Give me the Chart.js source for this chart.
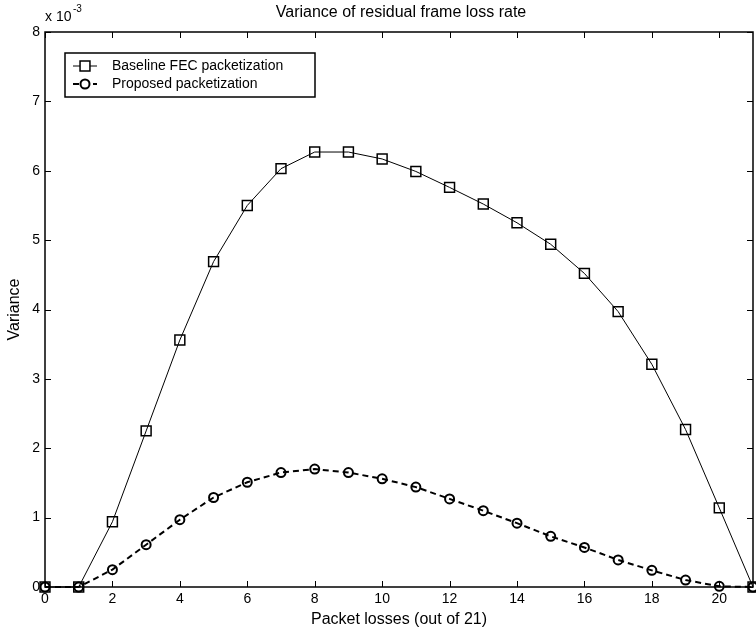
<!DOCTYPE html>
<html>
<head>
<meta charset="utf-8">
<script src="https://cdn.jsdelivr.net/npm/chart.js@4.4.0/dist/chart.umd.min.js"></script>
<style>
  html, body { margin: 0; padding: 0; background: #fff; overflow: hidden; }
  #chart { display: block; }
</style>
</head>
<body>
<!-- canvas is a few px wider than the window: the line controller keeps a minimum
     right padding for its end markers, the original axes run almost to the edge -->
<canvas id="chart" width="762" height="635"></canvas>
<script>
// packet losses (out of 21)
const losses = [0, 1, 2, 3, 4, 5, 6, 7, 8, 9, 10, 11, 12, 13, 14, 15, 16, 17, 18, 19, 20, 21];
// variance, in units of 1e-3
const baselineVar = [0, 0, 0.94, 2.25, 3.56, 4.69, 5.50, 6.03, 6.27, 6.27, 6.17, 5.99, 5.76, 5.52, 5.25, 4.94, 4.52, 3.97, 3.21, 2.27, 1.14, 0];
const proposedVar = [0, 0, 0.25, 0.61, 0.97, 1.29, 1.51, 1.65, 1.70, 1.65, 1.56, 1.44, 1.27, 1.10, 0.92, 0.73, 0.57, 0.39, 0.24, 0.10, 0.01, 0];
const xTicks = [0, 2, 4, 6, 8, 10, 12, 14, 16, 18, 20];
const yTicks = [0, 1, 2, 3, 4, 5, 6, 7, 8];

const FONT = 'Liberation Sans, Arial, Helvetica, sans-serif';
const TITLE = 'Variance of residual frame loss rate';

const toPoints = (vals) => losses.map((x, i) => ({ x: x, y: vals[i] * 1e-3 }));

// box around the axes with inward ticks on all four sides, title and exponent
const framePlugin = {
    id: 'frame',
    afterDraw(chart) {
        const { ctx, chartArea: a, scales } = chart;
        const tick = 6;
        ctx.save();
        ctx.strokeStyle = '#000';
        ctx.lineWidth = 1.5;
        ctx.strokeRect(a.left, a.top, a.right - a.left, a.bottom - a.top);
        ctx.lineWidth = 1;
        ctx.beginPath();
        xTicks.forEach(v => {
            const px = Math.round(scales.x.getPixelForValue(v)) + 0.5;
            ctx.moveTo(px, a.bottom); ctx.lineTo(px, a.bottom - tick);
            ctx.moveTo(px, a.top); ctx.lineTo(px, a.top + tick);
        });
        yTicks.forEach(v => {
            const py = Math.round(scales.y.getPixelForValue(v * 1e-3)) + 0.5;
            ctx.moveTo(a.left, py); ctx.lineTo(a.left + tick, py);
            ctx.moveTo(a.right, py); ctx.lineTo(a.right - tick, py);
        });
        ctx.stroke();

        ctx.fillStyle = '#000';
        ctx.font = '16px ' + FONT;
        ctx.textAlign = 'center';
        ctx.textBaseline = 'middle';
        ctx.fillText(TITLE, (a.left + a.right) / 2 + 2, 13);

        ctx.textAlign = 'left';
        ctx.font = '14px ' + FONT;
        ctx.fillText('x 10', a.left, 17);
        ctx.font = '10px ' + FONT;
        ctx.fillText('-3', a.left + 28, 9);
        ctx.restore();
    }
};

// legend box in the upper left of the plot
const legendPlugin = {
    id: 'boxLegend',
    afterDraw(chart) {
        const { ctx, chartArea: a } = chart;
        const x0 = a.left + 20, y0 = a.top + 21, w = 250, h = 44;
        ctx.save();
        ctx.fillStyle = '#fff';
        ctx.fillRect(x0, y0, w, h);
        ctx.strokeStyle = '#000';
        ctx.lineWidth = 1.5;
        ctx.strokeRect(x0, y0, w, h);
        chart.data.datasets.forEach((ds, i) => {
            const y = y0 + 13 + i * 18;
            ctx.strokeStyle = '#000';
            ctx.lineWidth = ds.borderWidth;
            ctx.setLineDash(ds.borderDash || []);
            ctx.beginPath();
            ctx.moveTo(x0 + 8, y);
            ctx.lineTo(x0 + 32, y);
            ctx.stroke();
            ctx.setLineDash([]);
            ctx.lineWidth = ds.pointBorderWidth;
            ctx.fillStyle = '#fff';
            Chart.helpers.drawPoint(ctx, {
                pointStyle: ds.pointStyle, radius: ds.pointRadius, borderWidth: ds.pointBorderWidth
            }, x0 + 20, y);
            ctx.fillStyle = '#000';
            ctx.font = '14px ' + FONT;
            ctx.textAlign = 'left';
            ctx.textBaseline = 'middle';
            ctx.fillText(ds.label, x0 + 47, y);
        });
        ctx.restore();
    }
};

new Chart(document.getElementById('chart'), {
    type: 'line',
    data: {
        datasets: [
            {
                label: 'Baseline FEC packetization',
                data: toPoints(baselineVar),
                borderColor: '#000',
                borderWidth: 1,
                pointStyle: 'rect',
                pointRadius: 7,
                pointBorderWidth: 1.5,
                pointBorderColor: '#000',
                pointBackgroundColor: 'rgba(0,0,0,0)',
                fill: false,
                clip: false
            },
            {
                label: 'Proposed packetization',
                data: toPoints(proposedVar),
                borderColor: '#000',
                borderWidth: 2,
                borderDash: [6, 4],
                pointStyle: 'circle',
                pointRadius: 4.5,
                pointBorderWidth: 2,
                pointBorderColor: '#000',
                pointBackgroundColor: 'rgba(0,0,0,0)',
                fill: false,
                clip: false
            }
        ]
    },
    options: {
        responsive: false,
        animation: false,
        devicePixelRatio: 1,
        layout: { padding: { top: 32, right: 9, left: 0, bottom: 0 } },
        plugins: {
            legend: { display: false },
            title: { display: false },
            tooltip: { enabled: false }
        },
        scales: {
            x: {
                type: 'linear',
                min: 0,
                max: 21,
                afterBuildTicks: (s) => { s.ticks = xTicks.map(v => ({ value: v })); },
                afterFit: (s) => { s.height = 48; s.paddingLeft = 0; s.paddingRight = 0; },
                grid: { display: false, drawTicks: false },
                border: { display: false },
                ticks: { color: '#000', font: { family: FONT, size: 14 }, padding: 4, maxRotation: 0, autoSkip: false },
                title: {
                    display: true,
                    text: 'Packet losses (out of 21)',
                    color: '#000',
                    font: { family: FONT, size: 16 },
                    padding: { top: 0, bottom: 6 }
                }
            },
            y: {
                type: 'linear',
                min: 0,
                max: 0.008,
                afterBuildTicks: (s) => { s.ticks = yTicks.map(v => ({ value: v * 1e-3 })); },
                afterFit: (s) => { s.width = 45; s.paddingTop = 0; s.paddingBottom = 0; },
                grid: { display: false, drawTicks: false },
                border: { display: false },
                ticks: {
                    color: '#000',
                    font: { family: FONT, size: 14 },
                    padding: 5,
                    autoSkip: false,
                    callback: (v) => String(Math.round(v * 1000))
                },
                title: {
                    display: true,
                    text: 'Variance',
                    color: '#000',
                    font: { family: FONT, size: 16 },
                    padding: { top: 5, bottom: 0 }
                }
            }
        }
    },
    plugins: [framePlugin, legendPlugin]
});
</script>
</body>
</html>
